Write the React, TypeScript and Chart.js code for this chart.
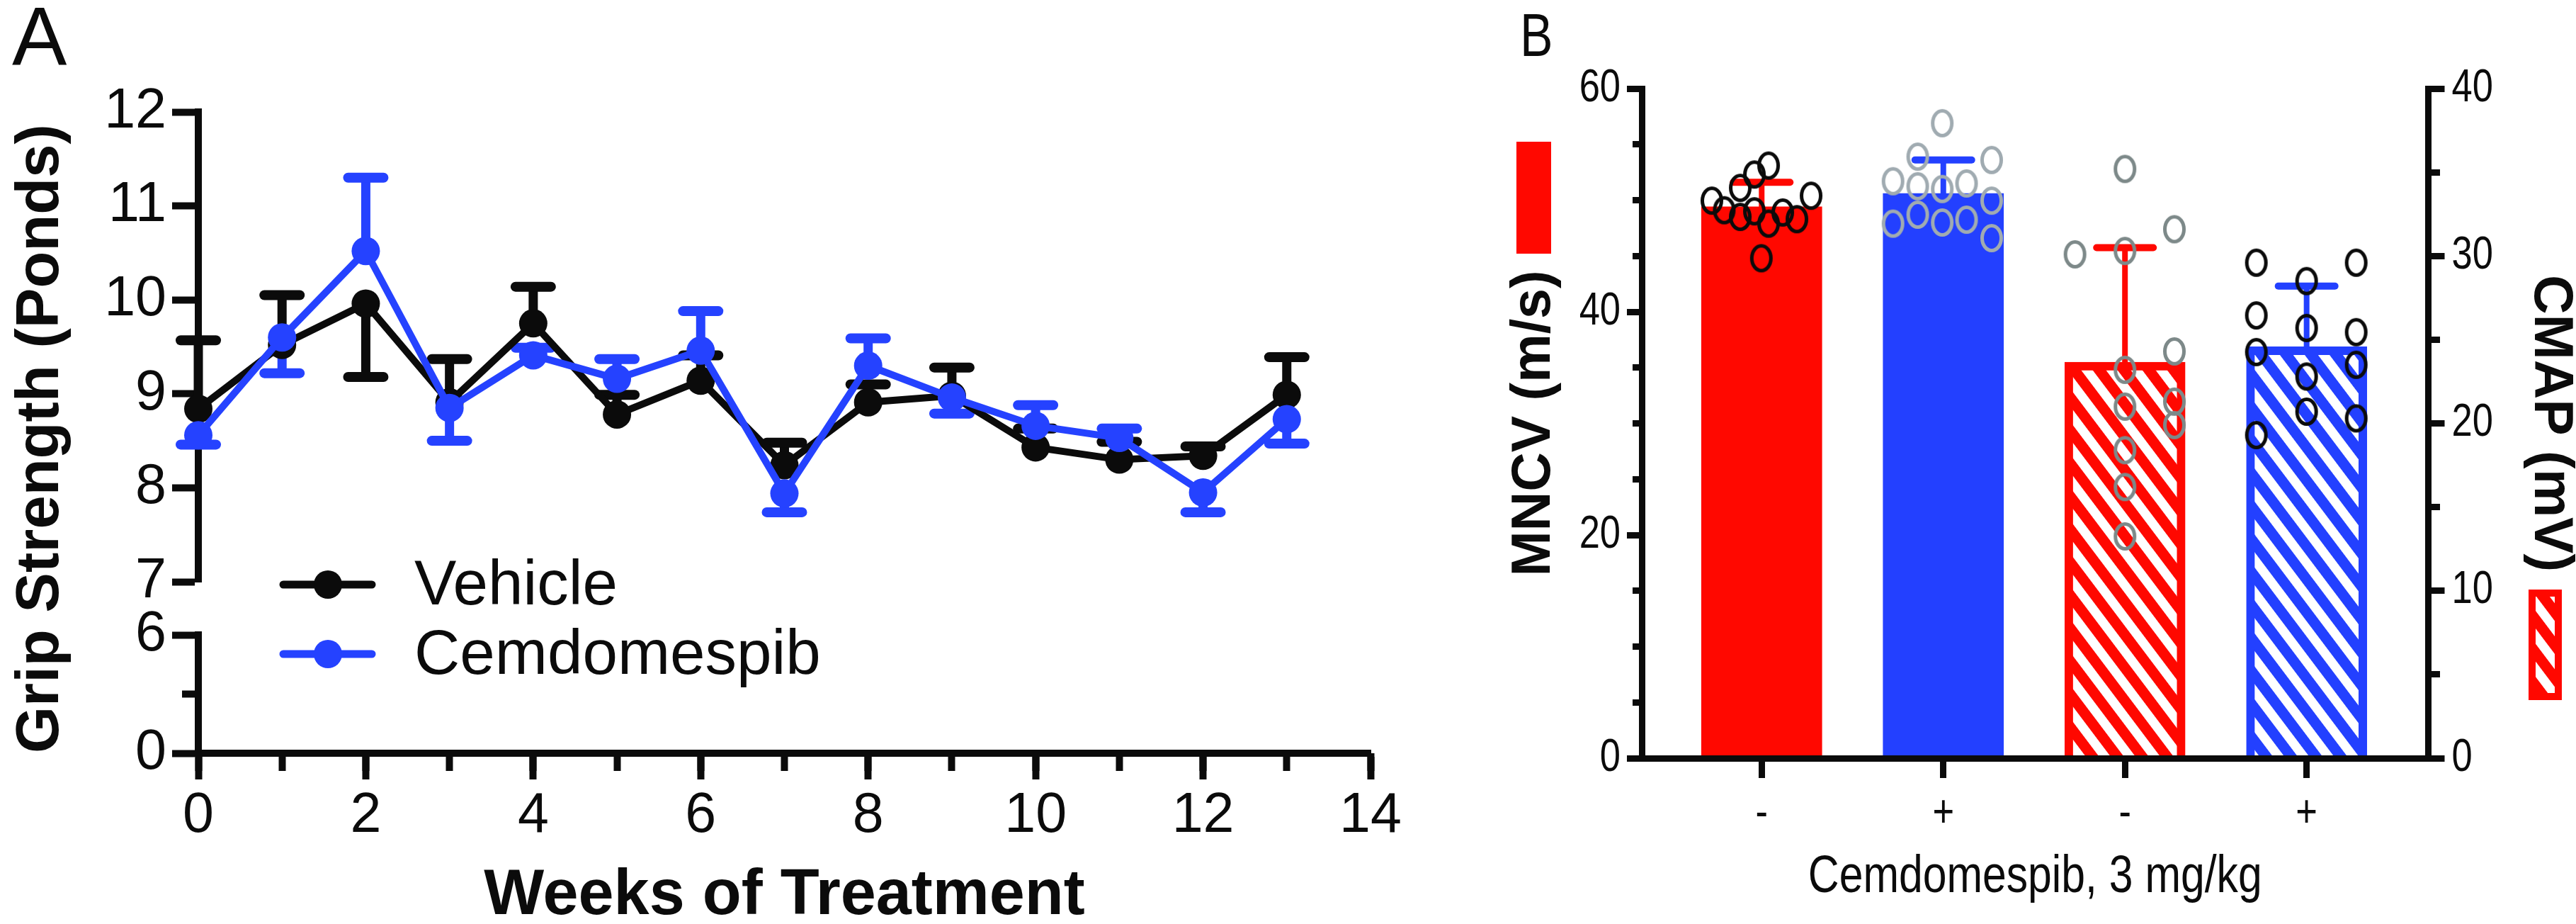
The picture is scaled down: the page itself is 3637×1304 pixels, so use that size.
import React, { useEffect, useRef } from 'react';
import { Chart, registerables } from 'chart.js';

Chart.register(...registerables);

// ---------------- Panel A : grip strength over time ----------------
const weeks = [0, 1, 2, 3, 4, 5, 6, 7, 8, 9, 10, 11, 12, 13];
const seriesNames = ['Vehicle', 'Cemdomespib'];
const vehicleMean = [8.84, 9.52, 9.96, 8.91, 9.75, 8.78, 9.14, 8.24, 8.91, 8.98, 8.43, 8.30, 8.34, 8.99];
const vehicleSem = [0.73, 0.53, 0.78, 0.46, 0.39, 0.21, 0.27, 0.24, 0.19, 0.30, 0.20, 0.19, 0.10, 0.40];
const vehicleSemSide = [1, 1, -1, 1, 1, 1, 1, 1, 1, 1, 1, 1, 1, 1];
const cemMean = [8.56, 9.60, 10.52, 8.85, 9.41, 9.16, 9.46, 7.94, 9.30, 8.96, 8.66, 8.53, 7.95, 8.73];
const cemSem = [0.10, 0.38, 0.78, 0.35, 0.08, 0.21, 0.42, 0.20, 0.29, 0.17, 0.22, 0.10, 0.21, 0.26];
const cemSemSide = [-1, -1, 1, -1, 1, 1, 1, -1, 1, -1, 1, 1, -1, -1];
const lowerSegmentTicks = [0, 6];
const lowerSegmentMinorTicks = [3];

// ---------------- Panel B : MNCV / CMAP ----------------
const treatmentLabels = ['-', '+', '-', '+'];
const mncvMean = [49.4, 50.6];
const mncvSem = [2.2, 3.0];
const cmapMean = [23.66, 24.58];
const cmapSem = [6.84, 3.62];
// individual animals: value and horizontal jitter (category units)
const mncvVehicleVals = [49.96, 49.1, 51.1, 52.3, 53.1, 50.4, 48.5, 49.0, 47.9, 48.9, 48.3, 44.8];
const mncvVehicleJit = [-0.274, -0.206, -0.118, -0.04, 0.038, 0.272, -0.118, -0.04, 0.038, 0.116, 0.194, -0.002];
const mncvCemVals = [56.9, 53.9, 53.6, 51.7, 51.25, 51.0, 51.5, 49.96, 47.9, 48.7, 48.0, 48.25, 46.6];
const mncvCemJit = [-0.006, -0.141, 0.266, -0.277, -0.141, -0.006, 0.128, 0.266, -0.277, -0.141, -0.006, 0.128, 0.266];
const cmapVehicleVals = [35.2, 30.1, 30.3, 31.6, 24.3, 23.2, 21.3, 19.9, 21.0, 18.4, 16.2, 13.25];
const cmapVehicleJit = [0, -0.275, 0, 0.272, 0.272, 0, 0.272, 0.272, 0, 0, 0, 0];
const cmapCemVals = [29.6, 26.45, 24.26, 19.3, 28.5, 25.7, 22.8, 20.7, 29.6, 25.45, 23.5, 20.3];
const cmapCemJit = [-0.277, -0.277, -0.277, -0.277, 0, 0, 0, 0, 0.273, 0.273, 0.273, 0.273];

const BLACK = '#0b0b0b';
const BLUE_A = '#2542ff';
const RED = '#ff0800';
const BLUE_B = '#2340ff';
const GREY_LIGHT = '#a0abb1';
const GREY_DARK = '#7d8989';
const REG = '"Liberation Sans", Arial, Helvetica, sans-serif';
const NARROW = '"Liberation Sans Narrow", "Liberation Sans", Arial, sans-serif';

function fontAvailable(family: string): boolean {
  const ctx = document.createElement('canvas').getContext('2d');
  if (!ctx) return false;
  const s = 'Cemdomespib 0123456789 mg/kg WMB';
  ctx.font = '60px monospace';
  const w0 = ctx.measureText(s).width;
  ctx.font = `60px "${family}", monospace`;
  const w1 = ctx.measureText(s).width;
  return Math.abs(w1 - w0) > 1;
}

function makeHatch(ctx: CanvasRenderingContext2D, color: string): CanvasPattern | string {
  const period = 28;
  const tile = document.createElement('canvas');
  tile.width = 4;
  tile.height = period;
  const g = tile.getContext('2d');
  if (!g) return color;
  g.fillStyle = color;
  g.fillRect(0, 0, 4, period);
  g.fillStyle = '#ffffff';
  g.fillRect(0, 0, 4, 13);
  const pat = ctx.createPattern(tile, 'repeat');
  if (!pat) return color;
  pat.setTransform(new DOMMatrix().rotate(53));
  return pat;
}

function ringImage(color: string): HTMLCanvasElement {
  const c = document.createElement('canvas');
  c.width = 38;
  c.height = 46;
  const g = c.getContext('2d');
  if (g) {
    g.strokeStyle = color;
    g.lineWidth = 5;
    g.beginPath();
    g.ellipse(19, 23, 13.5, 17.5, 0, 0, Math.PI * 2);
    g.stroke();
  }
  return c;
}

const tickGrid = (len: number, w: number) => ({
  drawOnChartArea: false,
  drawTicks: true,
  tickLength: len,
  tickWidth: w,
  tickColor: BLACK,
  lineWidth: 1,
});

export default function App() {
  const a1 = useRef<HTMLCanvasElement>(null);
  const a2 = useRef<HTMLCanvasElement>(null);
  const b = useRef<HTMLCanvasElement>(null);

  useEffect(() => {
    const narrowOk = fontAvailable('Liberation Sans Narrow');

    // ---- error bars for panel A ----
    const errorBarsA = {
      id: 'errorBarsA',
      beforeDatasetsDraw(chart: any) {
        const { ctx, scales } = chart;
        const xs = scales.x;
        const ys = scales.y;
        const series = [
          { mean: vehicleMean, sem: vehicleSem, side: vehicleSemSide, color: BLACK },
          { mean: cemMean, sem: cemSem, side: cemSemSide, color: BLUE_A },
        ];
        ctx.save();
        for (const s of series) {
          ctx.strokeStyle = s.color;
          weeks.forEach((w, i) => {
            const px = xs.getPixelForValue(w);
            const p0 = ys.getPixelForValue(s.mean[i]);
            const p1 = ys.getPixelForValue(s.mean[i] + s.side[i] * s.sem[i]);
            ctx.lineCap = 'butt';
            ctx.lineWidth = 13;
            ctx.beginPath();
            ctx.moveTo(px, p0);
            ctx.lineTo(px, p1);
            ctx.stroke();
            ctx.lineCap = 'round';
            ctx.lineWidth = 14;
            ctx.beginPath();
            ctx.moveTo(px - 25, p1);
            ctx.lineTo(px + 25, p1);
            ctx.stroke();
          });
        }
        ctx.restore();
      },
    };

    const letterA = {
      id: 'letterA',
      afterDraw(chart: any) {
        const ctx = chart.ctx;
        ctx.save();
        ctx.fillStyle = BLACK;
        ctx.font = `116px ${REG}`;
        ctx.textBaseline = 'alphabetic';
        ctx.textAlign = 'left';
        ctx.fillText('A', 17, 92);
        ctx.restore();
      },
    };

    const legendA = {
      id: 'legendA',
      afterDraw(chart: any) {
        const { ctx, chartArea } = chart;
        const rows = [
          { label: seriesNames[0], color: BLACK, y: chartArea.top - 71 },
          { label: seriesNames[1], color: BLUE_A, y: chartArea.top + 27 },
        ];
        ctx.save();
        for (const r of rows) {
          ctx.strokeStyle = r.color;
          ctx.lineWidth = 11;
          ctx.lineCap = 'round';
          ctx.beginPath();
          ctx.moveTo(chartArea.left + 120, r.y);
          ctx.lineTo(chartArea.left + 245, r.y);
          ctx.stroke();
          ctx.fillStyle = r.color;
          ctx.beginPath();
          ctx.arc(chartArea.left + 183, r.y, 20, 0, Math.PI * 2);
          ctx.fill();
          ctx.fillStyle = BLACK;
          ctx.font = `89px ${REG}`;
          ctx.textAlign = 'left';
          ctx.textBaseline = 'alphabetic';
          ctx.fillText(r.label, chartArea.left + 305, r.y + 28);
        }
        ctx.restore();
      },
    };

    const tickFontA = { family: REG, size: 79 };

    const lineDs = (label: string, mean: number[], color: string, order: number) => ({
      type: 'line' as const,
      label,
      data: weeks.map((w, i) => ({ x: w, y: mean[i] })),
      borderColor: color,
      backgroundColor: color,
      borderWidth: 10,
      borderJoinStyle: 'round' as const,
      pointRadius: 20,
      pointHoverRadius: 20,
      pointBackgroundColor: color,
      pointBorderColor: color,
      pointBorderWidth: 0,
      tension: 0,
      clip: false as any,
      order,
    });

    const chartA1 = new Chart(a1.current as HTMLCanvasElement, {
      type: 'line',
      data: {
        datasets: [
          lineDs(seriesNames[1], cemMean, BLUE_A, 0),
          lineDs(seriesNames[0], vehicleMean, BLACK, 1),
        ],
      },
      options: {
        responsive: false,
        animation: false,
        devicePixelRatio: 1,
        events: [],
        layout: { padding: { left: 10, right: 65, top: 158, bottom: 1304 - 821 } },
        plugins: { legend: { display: false }, tooltip: { enabled: false } },
        scales: {
          x: { type: 'linear', min: 0, max: 14, display: false },
          y: {
            type: 'linear',
            position: 'left',
            min: 7,
            max: 12,
            afterFit: (s: any) => { s.width = 270; },
            ticks: { stepSize: 1, font: tickFontA, color: BLACK, padding: 8 },
            grid: tickGrid(37, 10),
            border: { display: true, width: 10, color: BLACK },
          },
        },
      } as any,
      plugins: [errorBarsA, letterA],
    });

    const chartA2 = new Chart(a2.current as HTMLCanvasElement, {
      type: 'scatter',
      data: { datasets: [] },
      options: {
        responsive: false,
        animation: false,
        devicePixelRatio: 1,
        events: [],
        layout: { padding: { left: 10, right: 65, top: 896, bottom: 0 } },
        plugins: { legend: { display: false }, tooltip: { enabled: false } },
        scales: {
          x: {
            type: 'linear',
            position: 'bottom',
            min: 0,
            max: 14,
            afterFit: (s: any) => { s.height = 241; },
            ticks: { stepSize: 2, font: tickFontA, color: BLACK, padding: 5 },
            grid: tickGrid(37, 10),
            border: { display: true, width: 10, color: BLACK },
            title: {
              display: true,
              text: 'Weeks of Treatment',
              color: BLACK,
              font: { family: REG, size: 90, weight: 'bold', lineHeight: 1 },
              padding: { top: 0, bottom: -6 },
            },
          },
          xMinor: {
            type: 'linear',
            axis: 'x',
            position: { y: 0 },
            min: 0,
            max: 14,
            ticks: { display: false, stepSize: 1 },
            grid: tickGrid(25, 10),
            border: { display: false },
          },
          y: {
            type: 'linear',
            position: 'left',
            min: 0,
            max: 6,
            afterFit: (s: any) => { s.width = 270; },
            afterBuildTicks: (s: any) => { s.ticks = lowerSegmentTicks.map((v) => ({ value: v })); },
            ticks: { font: tickFontA, color: BLACK, padding: 8 },
            grid: tickGrid(37, 10),
            border: { display: true, width: 10, color: BLACK },
            title: {
              display: true,
              text: 'Grip Strength (Ponds)',
              align: 'start',
              color: BLACK,
              font: { family: REG, size: 85, weight: 'bold', lineHeight: 1 },
              padding: { top: 6, bottom: 0 },
            },
          },
          yMinor: {
            type: 'linear',
            axis: 'y',
            position: { x: 0 },
            min: 0,
            max: 6,
            afterBuildTicks: (s: any) => { s.ticks = lowerSegmentMinorTicks.map((v) => ({ value: v })); },
            ticks: { display: false },
            grid: tickGrid(23, 10),
            border: { display: false },
          },
        },
      } as any,
      plugins: [legendA],
    });

    // ---- Panel B ----
    const bctx = (b.current as HTMLCanvasElement).getContext('2d') as CanvasRenderingContext2D;
    // condensed text: if the narrow face is missing, draw the regular face squeezed horizontally
    if (!narrowOk && !(bctx as any).__narrowPatched) {
      const orig = bctx.fillText.bind(bctx);
      (bctx as any).fillText = (text: string, x: number, y: number, maxWidth?: number) => {
        if (/Narrow/.test(bctx.font)) {
          bctx.save();
          bctx.translate(x, y);
          bctx.scale(0.82, 1);
          if (maxWidth === undefined) orig(text, 0, 0);
          else orig(text, 0, 0, maxWidth / 0.82);
          bctx.restore();
        } else if (maxWidth === undefined) {
          orig(text, x, y);
        } else {
          orig(text, x, y, maxWidth);
        }
      };
      (bctx as any).__narrowPatched = true;
    }
    const hatchRed = makeHatch(bctx, RED);
    const hatchBlue = makeHatch(bctx, BLUE_B);
    const mncvColors = [RED, BLUE_B];
    const cmapColors = [RED, BLUE_B];

    const panelB = {
      id: 'panelB',
      afterDatasetDraw(chart: any, args: any) {
        const meta = args.meta;
        if (meta.type !== 'bar') return;
        const ys = chart.scales[meta.yAxisID];
        const means = args.index === 0 ? mncvMean : cmapMean;
        const sems = args.index === 0 ? mncvSem : cmapSem;
        const colors = args.index === 0 ? mncvColors : cmapColors;
        const ctx = chart.ctx;
        ctx.save();
        meta.data.forEach((bar: any, i: number) => {
          const x = bar.x;
          const y0 = ys.getPixelForValue(means[i]);
          const y1 = ys.getPixelForValue(means[i] + sems[i]);
          ctx.strokeStyle = colors[i];
          ctx.lineCap = 'butt';
          ctx.lineWidth = 8;
          ctx.beginPath();
          ctx.moveTo(x, y0);
          ctx.lineTo(x, y1);
          ctx.stroke();
          ctx.lineCap = 'round';
          ctx.lineWidth = 10;
          ctx.beginPath();
          ctx.moveTo(x - 40, y1);
          ctx.lineTo(x + 40, y1);
          ctx.stroke();
        });
        ctx.restore();
      },
      afterDraw(chart: any) {
        const { ctx, chartArea } = chart;
        ctx.save();
        // legend swatch beside MNCV title (solid)
        ctx.fillStyle = RED;
        ctx.fillRect(chartArea.left - 177, chartArea.top + 75, 49, 158);
        // legend swatch beside CMAP title (hatched)
        const sx = chartArea.right + 141.5;
        const sy = chartArea.top + 707;
        ctx.fillStyle = RED;
        ctx.fillRect(sx, sy, 47, 156);
        ctx.fillStyle = hatchRed;
        ctx.fillRect(sx + 10, sy + 10, 27, 136);
        // panel letter
        ctx.fillStyle = BLACK;
        ctx.font = `85px ${NARROW}`;
        ctx.textAlign = 'left';
        ctx.textBaseline = 'alphabetic';
        ctx.fillText('B', 146, 79);
        ctx.restore();
      },
    };

    const circles = (vals: number[], jit: number[], center: number, axis: string, color: string) => ({
      type: 'scatter' as const,
      data: vals.map((v, i) => ({ x: center + jit[i], y: v })),
      yAxisID: axis,
      pointStyle: ringImage(color),
      pointRadius: 15,
      pointHoverRadius: 15,
      pointBorderWidth: 5,
      pointBorderColor: color,
      pointBackgroundColor: 'rgba(0,0,0,0)',
      showLine: false,
      clip: false as any,
      order: 1,
    });

    const narrowTick = { family: NARROW, size: 64 };

    const chartB = new Chart(b.current as HTMLCanvasElement, {
      type: 'bar',
      data: {
        datasets: [
          {
            type: 'bar',
            label: 'MNCV',
            data: mncvMean.map((v, i) => ({ x: i, y: v })),
            yAxisID: 'y',
            backgroundColor: mncvColors,
            borderWidth: 0,
            barThickness: 170,
            grouped: false,
            order: 10,
          },
          {
            type: 'bar',
            label: 'CMAP',
            data: cmapMean.map((v, i) => ({ x: i + 2, y: v })),
            yAxisID: 'y2',
            backgroundColor: [hatchRed, hatchBlue],
            borderColor: cmapColors,
            borderWidth: 12,
            borderSkipped: 'start',
            barThickness: 170,
            grouped: false,
            order: 10,
          },
          circles(mncvVehicleVals, mncvVehicleJit, 0, 'y', BLACK),
          circles(mncvCemVals, mncvCemJit, 1, 'y', GREY_LIGHT),
          circles(cmapVehicleVals, cmapVehicleJit, 2, 'y2', GREY_DARK),
          circles(cmapCemVals, cmapCemJit, 3, 'y2', BLACK),
        ] as any,
      },
      options: {
        responsive: false,
        animation: false,
        devicePixelRatio: 1,
        events: [],
        layout: { padding: { left: 20, right: 0, top: 125, bottom: 0 } },
        plugins: { legend: { display: false }, tooltip: { enabled: false } },
        scales: {
          x: {
            type: 'linear',
            position: 'bottom',
            min: -0.66,
            max: 3.67,
            offset: false,
            afterFit: (s: any) => { s.height = 234; },
            afterBuildTicks: (s: any) => { s.ticks = treatmentLabels.map((_, i) => ({ value: i })); },
            ticks: {
              font: narrowTick,
              color: BLACK,
              padding: 13,
              callback: (v: any) => treatmentLabels[Math.round(Number(v))],
            },
            grid: { ...tickGrid(28, 9), offset: false },
            border: { display: true, width: 9, color: BLACK, z: 1 },
            title: {
              display: true,
              text: 'Cemdomespib, 3 mg/kg',
              color: BLACK,
              font: { family: NARROW, size: 74, lineHeight: 1 },
              padding: { top: 0, bottom: 28 },
            },
          },
          y: {
            type: 'linear',
            position: 'left',
            min: 0,
            max: 60,
            afterFit: (s: any) => { s.width = 298; },
            ticks: { stepSize: 20, font: narrowTick, color: BLACK, padding: 9 },
            grid: tickGrid(21, 9),
            border: { display: true, width: 9, color: BLACK },
            title: {
              display: true,
              text: 'MNCV (m/s)',
              color: BLACK,
              font: { family: REG, size: 77, weight: 'bold', lineHeight: 1 },
              padding: { top: 108.5, bottom: 0 },
            },
          },
          yMinorL: {
            type: 'linear',
            axis: 'y',
            position: { x: -0.66 },
            min: 0,
            max: 60,
            ticks: { display: false, stepSize: 5 },
            grid: tickGrid(13, 9),
            border: { display: false },
          },
          y2: {
            type: 'linear',
            position: 'right',
            min: 0,
            max: 40,
            afterFit: (s: any) => { s.width = 208.5; },
            ticks: { stepSize: 10, font: narrowTick, color: BLACK, padding: 10 },
            grid: tickGrid(23, 9),
            border: { display: true, width: 9, color: BLACK },
            title: {
              display: true,
              text: 'CMAP (mV)',
              color: BLACK,
              font: { family: REG, size: 77, weight: 'bold', lineHeight: 1 },
              padding: { top: -1.5, bottom: 0 },
            },
          },
          y2Minor: {
            type: 'linear',
            axis: 'y',
            position: { x: 3.67 },
            min: 0,
            max: 40,
            afterFit: (s: any) => { s.width = 0; },
            ticks: { display: false, stepSize: 5 },
            grid: tickGrid(-16, 9),
            border: { display: false },
          },
        },
      } as any,
      plugins: [panelB],
    });

    return () => {
      chartA1.destroy();
      chartA2.destroy();
      chartB.destroy();
    };
  }, []);

  return (
    <div style={{ position: 'fixed', left: 0, top: 0, width: 3637, height: 1304, background: '#ffffff', overflow: 'hidden' }}>
      <canvas ref={a2} width={2000} height={1304} style={{ position: 'absolute', left: 0, top: 0 }} />
      <canvas ref={a1} width={2000} height={1304} style={{ position: 'absolute', left: 0, top: 0 }} />
      <canvas ref={b} width={1637} height={1304} style={{ position: 'absolute', left: 2000, top: 0 }} />
    </div>
  );
}
